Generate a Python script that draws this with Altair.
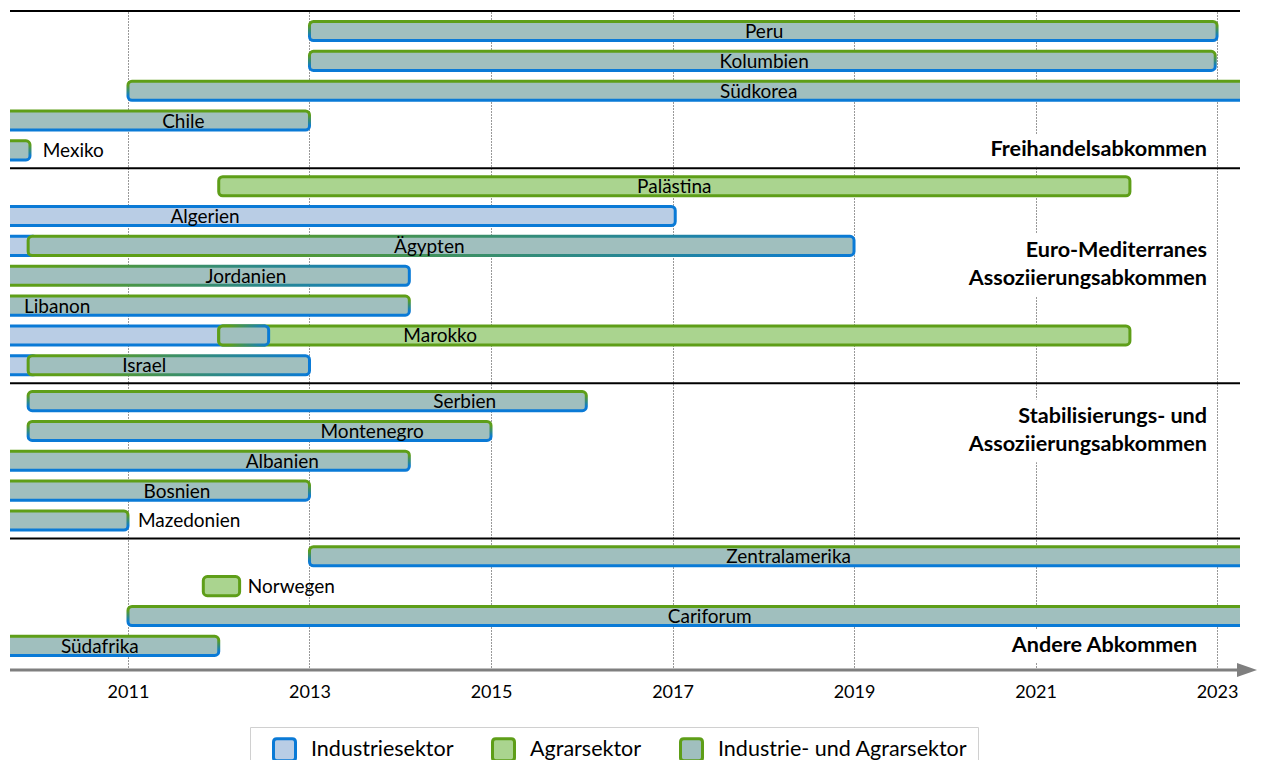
import altair as alt
import pandas as pd

# ---------------- data ----------------
GROUP_TITLES = [
    ["Freihandelsabkommen"],
    ["Euro-Mediterranes", "Assoziierungsabkommen"],
    ["Stabilisierungs- und", "Assoziierungsabkommen"],
    ["Andere Abkommen"],
]
GROUP_ROWS = [
    ["Peru", "Kolumbien", "Südkorea", "Chile", "Mexiko"],
    ["Palästina", "Algerien", "Ägypten", "Jordanien", "Libanon", "Marokko", "Israel"],
    ["Serbien", "Montenegro", "Albanien", "Bosnien", "Mazedonien"],
    ["Zentralamerika", "Norwegen", "Cariforum", "Südafrika"],
]
# row (within group) on which the group title is centred, and its right edge (year)
GROUP_TITLE_ROW = [4, 2.64, 1, 3]
GROUP_TITLE_X = [2022.89, 2022.89, 2022.89, 2022.78]

# label anchor (year) per country, in flattened row order
LABEL_X = [2018.01, 2018.01, 2017.95, 2011.61, 2010.06,
           2017.02, 2011.85, 2014.32, 2012.30, 2010.22, 2014.44, 2011.18,
           2014.71, 2013.69, 2012.70, 2011.54, 2011.11,
           2018.28, 2012.32, 2017.41, 2010.69]

SECTORS = ["Industriesektor", "Agrarsektor", "Industrie- und Agrarsektor"]

SEG_COUNTRY = ["Peru", "Kolumbien", "Südkorea", "Chile", "Mexiko",
               "Palästina", "Algerien", "Ägypten", "Ägypten", "Jordanien", "Libanon",
               "Marokko", "Marokko", "Marokko", "Israel", "Israel",
               "Serbien", "Montenegro", "Albanien", "Bosnien", "Mazedonien",
               "Zentralamerika", "Norwegen", "Cariforum", "Südafrika"]
SEG_SECTOR = ["Industrie- und Agrarsektor"] * 5 + [
    "Agrarsektor", "Industriesektor", "Industriesektor", "Industrie- und Agrarsektor",
    "Industrie- und Agrarsektor", "Industrie- und Agrarsektor",
    "Industriesektor", "Agrarsektor", "Industrie- und Agrarsektor",
    "Industriesektor", "Industrie- und Agrarsektor"] + ["Industrie- und Agrarsektor"] * 5 + [
    "Industrie- und Agrarsektor", "Agrarsektor", "Industrie- und Agrarsektor",
    "Industrie- und Agrarsektor"]
SEG_START = [2013.0, 2013.0, 2011.0, 2009.0, 2009.0,
             2012.0, 2009.0, 2009.0, 2009.9, 2009.0, 2009.0,
             2009.0, 2012.0, 2012.0, 2009.0, 2009.9,
             2009.9, 2009.9, 2009.0, 2009.0, 2009.0,
             2013.0, 2011.83, 2011.0, 2009.0]
SEG_END = [2023.0, 2022.98, 2024.0, 2013.0, 2009.92,
           2022.04, 2017.03, 2010.0, 2019.0, 2014.1, 2014.1,
           2012.55, 2022.04, 2012.55, 2010.0, 2013.0,
           2016.05, 2015.0, 2014.1, 2013.0, 2011.0,
           2024.0, 2012.23, 2024.0, 2012.0]

TICKS = [2011, 2013, 2015, 2017, 2019, 2021, 2023]

# ---------------- styling ----------------
FONT = "Lato"
BLUE = "#0a7ad6"
GREEN = "#5e9e18"
BLUE_FILL = "#b9cde5"
GREEN_FILL = "#aad48f"
MIX_FILL = "#a0bfbe"
GRAY = "#7f7f7f"
OUTSIDE = ["Mexiko", "Mazedonien", "Norwegen"]
H_GRAD = ["Ägypten", "Israel", "Marokko", "Jordanien"]
GAP = 0.2
HALF = 0.32
LINE_STEP = 0.94
TITLE_SIZE = 21.6
PX_PER_YEAR = 90.75
X_DOMAIN = [2009.70, 2023.253]
ARROW_END = 2023.25
ARROW_TIP = 2023.33

# ---------------- derived tables ----------------
rows, pos = [], []
for g, names in enumerate(GROUP_ROWS):
    for n in names:
        pos.append(len(rows) + GAP * g)
        rows.append(n)
row_pos = dict(zip(rows, pos))
Y_MIN = pos[0] - 0.67
Y_MAX = pos[-1] + 0.81

rows_df = pd.DataFrame({"land": rows, "pos": pos, "lx": LABEL_X})
rows_df["outside"] = rows_df["land"].isin(OUTSIDE)

seg_df = pd.DataFrame({"land": SEG_COUNTRY, "sektor": SEG_SECTOR,
                       "start": SEG_START, "end": SEG_END})
seg_df["pos"] = seg_df["land"].map(row_pos)
seg_df["y0"] = seg_df["pos"] - HALF
seg_df["y1"] = seg_df["pos"] + HALF
seg_df["hgrad"] = seg_df["land"].isin(H_GRAD)
seg_df["mix"] = seg_df["sektor"] == SECTORS[2]

first_pos = [row_pos[names[0]] for names in GROUP_ROWS]
last_pos = [row_pos[names[-1]] for names in GROUP_ROWS]
sep_df = pd.DataFrame({"y": [Y_MIN] + [(last_pos[i] + first_pos[i + 1]) / 2 for i in range(len(GROUP_ROWS) - 1)]})

t_text, t_x, t_y = [], [], []
bx0, bx1, by0, by1 = [], [], [], []
for i, lines in enumerate(GROUP_TITLES):
    centre = first_pos[i] + GROUP_TITLE_ROW[i]
    for k, line in enumerate(lines):
        t_text.append(line)
        t_x.append(GROUP_TITLE_X[i])
        t_y.append(centre + (k - (len(lines) - 1) / 2) * LINE_STEP)
    # white backing box behind the title (hides the grid line)
    w = max(len(s) for s in lines) * 0.6 * TITLE_SIZE / PX_PER_YEAR
    bx0.append(GROUP_TITLE_X[i] - w - 0.08)
    bx1.append(GROUP_TITLE_X[i] + 0.06)
    by0.append(centre - len(lines) * 0.5 - 0.05)
    by1.append(centre + len(lines) * 0.5 + 0.05)
title_df = pd.DataFrame({"t": t_text, "x": t_x, "y": t_y})
box_df = pd.DataFrame({"x0": bx0, "x1": bx1, "y0": by0, "y1": by1})

axis_df = pd.DataFrame({"x": [X_DOMAIN[0]], "x2": [ARROW_END], "tip": [ARROW_TIP], "y": [Y_MAX]})

# ---------------- scales / guides ----------------
XS = alt.Scale(domain=X_DOMAIN, nice=False, zero=False)
YS = alt.Scale(domain=[Y_MIN, Y_MAX], reverse=True, nice=False, zero=False)
XAXIS = alt.Axis(values=TICKS, format="d", grid=True, gridDash=[1, 2], gridColor="#333333",
                 gridWidth=1, domain=False, ticks=False, labelFont=FONT, labelFontSize=18,
                 labelColor="black", labelPadding=13, title=None)
FS = alt.Scale(domain=SECTORS, range=[BLUE_FILL, GREEN_FILL, MIX_FILL])
SS = alt.Scale(domain=SECTORS, range=[BLUE, GREEN, GREEN])

V_GRADIENT = alt.LinearGradient(gradient="linear", x1=0, x2=0, y1=0, y2=1,
                                stops=[alt.GradientStop(color=GREEN, offset=0.2),
                                       alt.GradientStop(color=BLUE, offset=0.8)])
H_GRADIENT = alt.LinearGradient(gradient="linear", x1=0, x2=1, y1=0, y2=0,
                                stops=[alt.GradientStop(color=GREEN, offset=0.0),
                                       alt.GradientStop(color=GREEN, offset=0.2),
                                       alt.GradientStop(color=BLUE, offset=1.0)])

ROUNDED = "M-0.7,-1H0.7Q1,-1,1,-0.7V0.7Q1,1,0.7,1H-0.7Q-1,1,-1,0.7V-0.7Q-1,-1,-0.7,-1Z"
LEG = alt.Legend(
    title=None, orient="none", legendX=240, legendY=716, direction="horizontal",
    symbolType=ROUNDED, symbolSize=484, symbolStrokeWidth=3,
    labelFont=FONT, labelFontSize=21.5, labelColor="black", labelOffset=14, labelLimit=400,
    columnPadding=25, padding=10, strokeColor="#d0d0d0", fillColor="white",
    symbolOffset=12, symbolOpacity=1,
)

base = alt.Chart(seg_df)
X = alt.X("start:Q", scale=XS, axis=XAXIS)
Y0 = alt.Y("y0:Q", scale=YS, axis=None)

boxes = alt.Chart(box_df).mark_rect(color="white", opacity=1).encode(
    x=alt.X("x0:Q", scale=XS, axis=XAXIS), x2="x1:Q",
    y=alt.Y("y0:Q", scale=YS, axis=None), y2="y1:Q")

single = base.transform_filter("!datum.mix").mark_rect(
    strokeWidth=3, cornerRadius=4, clip=True, opacity=1
).encode(
    x=X, x2="end:Q", y=Y0, y2="y1:Q",
    fill=alt.Fill("sektor:N", scale=FS, legend=LEG),
    stroke=alt.Stroke("sektor:N", scale=SS, legend=LEG),
)


def mix_layer(filter_expr, grad):
    return base.transform_filter(filter_expr).mark_rect(
        strokeWidth=3, cornerRadius=4, clip=True, opacity=1, stroke=grad
    ).encode(
        x=X, x2="end:Q", y=Y0, y2="y1:Q",
        fill=alt.Fill("sektor:N", scale=FS, legend=LEG),
    )


mix_v = mix_layer("datum.mix && !datum.hgrad", V_GRADIENT)
mix_h = mix_layer("datum.mix && datum.hgrad", H_GRADIENT)

seps = alt.Chart(sep_df).mark_rule(color="black", strokeWidth=2).encode(
    y=alt.Y("y:Q", scale=YS, axis=None))

axis_line = alt.Chart(axis_df).mark_rule(color=GRAY, strokeWidth=3).encode(
    x=alt.X("x:Q", scale=XS, axis=XAXIS), x2="x2:Q", y=alt.Y("y:Q", scale=YS, axis=None))
arrow = alt.Chart(axis_df).mark_point(
    shape="M-1,-0.7L1,0L-1,0.7Z", filled=True, color=GRAY, opacity=1, size=400
).encode(x=alt.X("tip:Q", scale=XS, axis=XAXIS), y=alt.Y("y:Q", scale=YS, axis=None))

lab_in = alt.Chart(rows_df).transform_filter("!datum.outside").mark_text(
    font=FONT, fontSize=19, color="black", align="center", baseline="middle", dy=1
).encode(x=alt.X("lx:Q", scale=XS, axis=XAXIS), y=alt.Y("pos:Q", scale=YS, axis=None), text="land:N")
lab_out = alt.Chart(rows_df).transform_filter("datum.outside").mark_text(
    font=FONT, fontSize=19, color="black", align="left", baseline="middle", dy=1
).encode(x=alt.X("lx:Q", scale=XS, axis=XAXIS), y=alt.Y("pos:Q", scale=YS, axis=None), text="land:N")

titles = alt.Chart(title_df).mark_text(
    font=FONT, fontSize=TITLE_SIZE, fontWeight="bold", color="black", align="right", baseline="middle"
).encode(x=alt.X("x:Q", scale=XS, axis=XAXIS), y=alt.Y("y:Q", scale=YS, axis=None), text="t:N")

chart = alt.layer(boxes, seps, single, mix_v, mix_h, axis_line, arrow, lab_in, lab_out, titles).properties(
    width=1230, height=659,
    autosize=alt.AutoSizeParams(type="none"),
    padding={"left": 2, "top": 3, "right": 18, "bottom": 90},
).configure_view(stroke=None)

chart.save("out.html", embed_options={"renderer": "svg", "actions": False})
